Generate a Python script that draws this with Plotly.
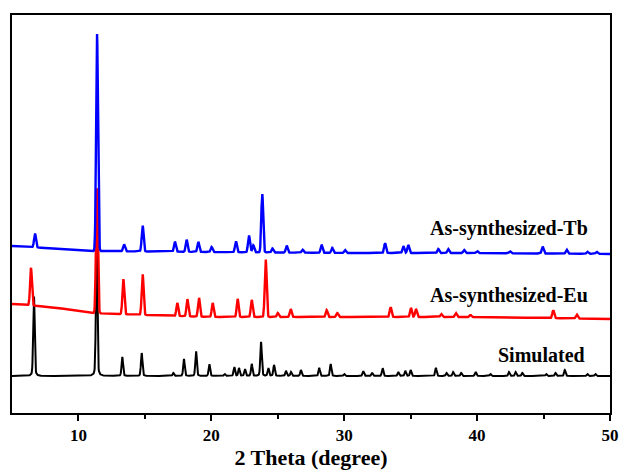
import numpy as np
import plotly.graph_objects as go

# ---- data (intensity in arbitrary units) ----
sim_base_x = [5, 50]
sim_base_y = [37, 37]
sim_pos = [6.65, 11.37, 13.30, 14.76, 17.14, 17.94, 18.85, 19.85, 21.00, 21.73, 22.08, 22.53, 23.04,
           23.74, 24.29, 24.72, 25.62, 26.00, 26.74, 28.12, 28.98, 30.00, 31.43, 32.10, 32.89,
           34.07, 34.60, 35.00, 36.90, 37.70, 38.20, 38.80, 39.89, 41.00, 42.40, 42.90, 43.40,
           45.20, 45.90, 46.60, 48.30, 48.90]
sim_h = [81, 130, 19, 23, 3, 17, 25, 12, 2, 9, 8, 7, 12,
         34, 8, 11, 5, 4, 6, 8, 12, 2, 5, 3, 8,
         4, 5, 6, 8, 3, 4, 3, 4, 2, 4, 4, 3,
         2, 3, 6, 2, 2]

eu_base_x = [5, 8, 11, 15, 20, 30, 40, 50]
eu_base_y = [109, 106, 100, 98, 96, 96, 96, 94]
eu_pos = [6.43, 11.39, 13.38, 14.83, 17.44, 18.20, 19.07, 20.10, 21.98, 23.04, 24.09, 25.00, 25.97,
          28.68, 29.48, 33.49, 35.02, 35.40, 37.30, 38.40, 39.50, 45.73, 47.50]
eu_h = [37, 125, 35, 41, 13, 17, 19, 14, 18, 17, 58, 4, 8,
        7, 4, 10, 9, 8, 3, 4, 2, 8, 4]

tb_base_x = [5, 10, 11, 20, 30, 40, 50]
tb_base_y = [167, 163, 162, 161, 160, 160, 159]
tb_pos = [6.73, 11.40, 13.43, 14.83, 17.26, 18.14, 19.02, 20.02, 21.85, 22.83, 23.16, 23.83, 24.60,
          25.67, 26.87, 28.30, 29.10, 30.06, 33.07, 34.45, 34.82, 37.08, 37.83, 39.03, 40.00,
          42.47, 44.93, 46.74, 48.30, 49.00]
tb_h = [14, 217, 7, 26, 10, 12, 10, 5, 11, 17, 7, 59, 4,
        7, 3, 8, 5, 3, 10, 7, 8, 4, 4, 3, 2,
        2, 7, 4, 2, 2]

labels = ["Simulated", "As-synthesized-Eu", "As-synthesized-Tb"]
x_ticks = [10, 20, 30, 40, 50]


def pattern(bx, by, pos, h, sigma, lor=0.0):
    x = np.arange(5.0, 50.0001, 0.02)
    y = np.interp(x, bx, by).astype(float)
    for p, hh in zip(pos, h):
        d = x - p
        g = np.exp(-0.5 * (d / sigma) ** 2)
        l = 1.0 / (1.0 + (d / (sigma * 1.2)) ** 2)
        y += hh * ((1 - lor) * g + lor * l)
    return x, y


fig = go.Figure()
series = [
    (sim_base_x, sim_base_y, sim_pos, sim_h, "#000000", 0.055, 0.25, 2.0),
    (eu_base_x, eu_base_y, eu_pos, eu_h, "#ff0000", 0.07, 0.0, 2.4),
    (tb_base_x, tb_base_y, tb_pos, tb_h, "#0000ff", 0.07, 0.0, 2.4),
]
for (bx, by, pos, h, col, sg, lor, lw), name in zip(series, labels):
    x, y = pattern(bx, by, pos, h, sg, lor)
    fig.add_trace(go.Scatter(x=x, y=y, mode="lines", name=name,
                             line=dict(color=col, width=lw), showlegend=False))

label_y = [58, 118, 185]
label_x = [48.3, 48.5, 48.5]
for name, lx, ly in zip(labels, label_x, label_y):
    fig.add_annotation(x=lx, y=ly, xref="x", yref="y", text="<b>%s</b>" % name,
                       showarrow=False, xanchor="right", yanchor="middle",
                       font=dict(family="Liberation Serif", size=20, color="#000"))

fig.update_layout(
    width=621, height=470,
    margin=dict(l=12, r=11, t=15, b=57, autoexpand=False),
    paper_bgcolor="white", plot_bgcolor="white",
    xaxis=dict(range=[5, 50], tickvals=x_ticks, ticktext=[str(v) for v in x_ticks],
               automargin=False,
               ticks="outside", ticklen=6, tickwidth=2, tickcolor="#000",
               minor=dict(tickvals=[15, 25, 35, 45], ticks="outside", ticklen=4,
                          tickwidth=2, tickcolor="#000"),
               showline=True, linewidth=2, linecolor="#000", mirror=True,
               showgrid=False, zeroline=False,
               tickfont=dict(family="Liberation Serif", size=17, color="#000", weight="bold"),
               title=dict(text="<b>2 Theta (degree)</b>", standoff=3,
                          font=dict(family="Liberation Serif", size=22, color="#000"))),
    yaxis=dict(range=[0, 398], showticklabels=False, ticks="", showgrid=False, zeroline=False,
               automargin=False,
               showline=True, linewidth=2, linecolor="#000", mirror=True),
)

fig.write_html("out.html")
